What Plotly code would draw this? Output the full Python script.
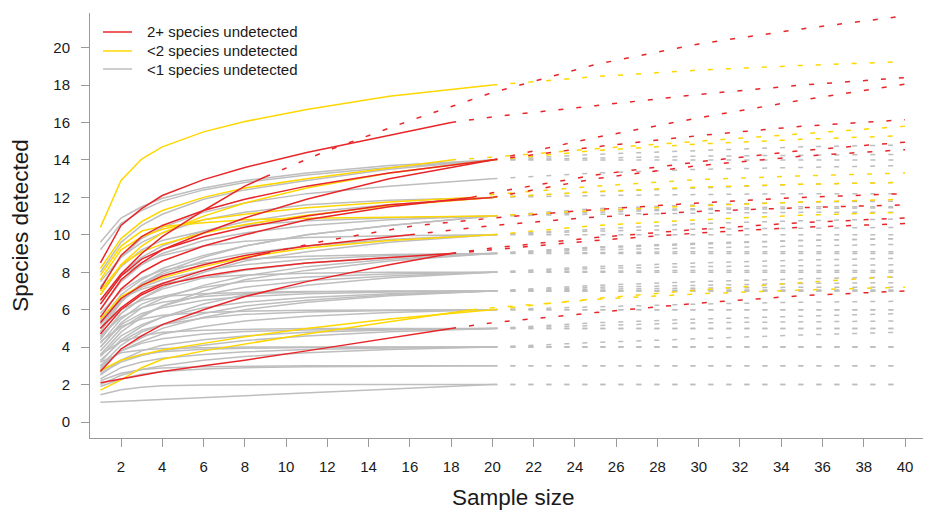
import plotly.graph_objects as go

# Species accumulation curves: observed part (solid) up to each site's sample size,
# projected part (dashed) out to 40 samples.
OBS_KNOTS = [1, 2, 3, 4, 6, 8, 11, 15, 20]
EXT_KNOTS = [12, 16, 20, 25, 30, 35, 40]
X_TICKS = list(range(2, 41, 2))
Y_TICKS = list(range(0, 21, 2))

RED_N = [9, 18, 20, 20, 19, 20, 16, 9, 18, 18, 18]
RED_OBS = [
    [6.5, 7.9, 9.0, 9.9, 11.3, 12.6, 13.1],
    [8.5, 10.5, 11.4, 12.1, 12.95, 13.6, 14.4, 15.3, 16.0],
    [7.1, 8.9, 9.9, 10.5, 11.3, 11.9, 12.6, 13.3, 14.0],
    [6.0, 7.6, 8.5, 9.2, 10.1, 10.9, 11.9, 13.0, 14.0],
    [5.6, 7.1, 8.0, 8.6, 9.4, 10.0, 10.8, 11.5, 12.0],
    [6.3, 7.8, 8.7, 9.2, 9.9, 10.4, 11.0, 11.6, 12.0],
    [5.3, 6.6, 7.3, 7.8, 8.4, 8.9, 9.4, 9.85, 10.0],
    [5.0, 6.1, 6.9, 7.4, 8.1, 8.75, 9.0],
    [2.7, 3.9, 4.6, 5.2, 6.0, 6.7, 7.5, 8.4, 9.0],
    [2.1, 2.3, 2.5, 2.7, 3.0, 3.3, 3.8, 4.5, 5.0],
    [4.7, 6.0, 6.8, 7.3, 7.8, 8.15, 8.5, 8.8, 9.0],
]
RED_EXT = [
    [14.5, 16.1, 17.6, 19.1, 20.2, 21.0, 21.7],
    [16.3, 16.9, 17.5, 18.0, 18.4],
    [15.2, 16.25, 17.2, 18.05],
    [14.7, 15.3, 15.8, 16.15],
    [12.25, 13.2, 13.9, 14.5, 14.95],
    [13.0, 13.7, 14.2, 14.55],
    [10.5, 10.95, 11.25, 11.45, 11.6],
    [9.7, 10.45, 10.9, 11.35, 11.7, 12.0, 12.2],
    [9.3, 9.85, 10.3, 10.65, 10.9],
    [5.3, 5.85, 6.35, 6.75, 7.0],
    [9.2, 9.7, 10.1, 10.4, 10.6],
]

YEL_N = [20, 18, 20, 19, 20, 20, 20, 20, 19]
YEL_OBS = [
    [10.4, 12.9, 14.05, 14.7, 15.5, 16.05, 16.7, 17.4, 18.0],
    [8.2, 9.8, 10.7, 11.3, 12.0, 12.5, 13.0, 13.55, 14.0],
    [6.8, 8.4, 9.4, 10.1, 11.0, 11.7, 12.5, 13.3, 14.0],
    [7.6, 9.2, 9.9, 10.3, 10.8, 11.1, 11.45, 11.75, 12.0],
    [7.0, 8.4, 9.1, 9.5, 10.1, 10.55, 11.05, 11.55, 12.0],
    [7.85, 9.4, 10.2, 10.45, 10.65, 10.8, 10.88, 10.95, 11.0],
    [5.5, 6.7, 7.3, 7.7, 8.3, 8.8, 9.3, 9.7, 10.0],
    [2.75, 3.3, 3.6, 3.85, 4.2, 4.55, 5.0, 5.5, 6.0],
    [1.7, 2.25, 2.9, 3.35, 3.8, 4.15, 4.7, 5.35, 6.0],
]
YEL_EXT = [
    [18.45, 18.8, 19.05, 19.25],
    [14.15, 14.6, 15.0, 15.4, 15.8],
    [14.5, 14.85, 15.1, 15.3],
    [12.15, 12.6, 12.95, 13.15, 13.3],
    [12.3, 12.55, 12.7, 12.8],
    [11.3, 11.55, 11.75, 11.9],
    [10.5, 10.8, 11.05, 11.2],
    [6.6, 7.05, 7.45, 7.8],
    [6.1, 6.55, 6.85, 7.05, 7.2],
]

GRAY_OBS = [
    [9.6, 10.9, 11.5, 11.95, 12.5, 12.9, 13.3, 13.7, 14.0],
    [9.2, 10.6, 11.3, 11.8, 12.4, 12.8, 13.2, 13.6, 14.0],
    [8.0, 9.6, 10.5, 11.1, 11.9, 12.4, 12.9, 13.5, 14.0],
    [7.2, 8.8, 9.8, 10.4, 11.2, 11.7, 12.2, 12.6, 13.0],
    [7.5, 8.8, 9.6, 10.1, 10.8, 11.2, 11.6, 11.85, 12.0],
    [6.3, 7.9, 8.8, 9.4, 10.2, 10.7, 11.2, 11.6, 12.0],
    [6.8, 8.3, 9.2, 9.7, 10.2, 10.5, 10.75, 10.9, 11.0],
    [6.0, 7.5, 8.4, 9.0, 9.7, 10.1, 10.5, 10.8, 11.0],
    [5.4, 6.8, 7.6, 8.2, 8.9, 9.4, 10.0, 10.5, 11.0],
    [4.8, 6.4, 7.4, 8.0, 8.8, 9.4, 10.0, 10.5, 11.0],
    [6.5, 7.8, 8.5, 8.9, 9.4, 9.65, 9.85, 9.95, 10.0],
    [5.0, 6.5, 7.4, 7.9, 8.6, 9.0, 9.4, 9.75, 10.0],
    [4.4, 5.8, 6.6, 7.2, 8.0, 8.6, 9.1, 9.6, 10.0],
    [5.8, 7.0, 7.7, 8.1, 8.5, 8.7, 8.85, 8.95, 9.0],
    [5.2, 6.5, 7.2, 7.6, 8.1, 8.4, 8.7, 8.9, 9.0],
    [4.5, 5.8, 6.6, 7.1, 7.7, 8.1, 8.5, 8.8, 9.0],
    [4.0, 5.3, 6.1, 6.6, 7.3, 7.8, 8.3, 8.7, 9.0],
    [3.6, 4.8, 5.6, 6.2, 7.0, 7.6, 8.1, 8.6, 9.0],
    [5.5, 6.6, 7.1, 7.4, 7.7, 7.85, 7.95, 8.0, 8.0],
    [4.2, 5.5, 6.3, 6.7, 7.2, 7.5, 7.75, 7.9, 8.0],
    [3.8, 5.0, 5.7, 6.2, 6.8, 7.2, 7.55, 7.8, 8.0],
    [3.2, 4.4, 5.1, 5.6, 6.3, 6.8, 7.3, 7.7, 8.0],
    [5.0, 6.0, 6.5, 6.7, 6.85, 6.92, 6.97, 7.0, 7.0],
    [4.6, 5.6, 6.1, 6.4, 6.7, 6.85, 6.95, 7.0, 7.0],
    [4.0, 5.2, 5.8, 6.1, 6.5, 6.7, 6.85, 6.95, 7.0],
    [3.5, 4.6, 5.2, 5.6, 6.1, 6.4, 6.65, 6.85, 7.0],
    [3.0, 4.1, 4.8, 5.2, 5.8, 6.2, 6.5, 6.8, 7.0],
    [2.8, 3.9, 4.5, 5.0, 5.6, 6.0, 6.4, 6.75, 7.0],
    [4.3, 5.1, 5.5, 5.7, 5.85, 5.92, 5.97, 6.0, 6.0],
    [3.3, 4.3, 4.9, 5.2, 5.55, 5.75, 5.88, 5.96, 6.0],
    [2.9, 3.8, 4.3, 4.7, 5.1, 5.4, 5.65, 5.85, 6.0],
    [3.6, 4.3, 4.6, 4.8, 4.9, 4.95, 5.0, 5.0, 5.0],
    [3.0, 3.8, 4.2, 4.45, 4.7, 4.83, 4.92, 4.97, 5.0],
    [2.5, 3.3, 3.8, 4.1, 4.4, 4.6, 4.8, 4.92, 5.0],
    [2.6, 3.2, 3.55, 3.8, 4.1, 4.35, 4.6, 4.82, 5.0],
    [3.2, 3.7, 3.85, 3.92, 3.97, 4.0, 4.0, 4.0, 4.0],
    [2.7, 3.3, 3.6, 3.75, 3.88, 3.94, 3.98, 4.0, 4.0],
    [2.3, 2.9, 3.2, 3.4, 3.6, 3.75, 3.87, 3.95, 4.0],
    [2.0, 2.5, 2.8, 3.0, 3.3, 3.5, 3.7, 3.87, 4.0],
    [2.2, 2.6, 2.8, 2.88, 2.95, 2.98, 3.0, 3.0, 3.0],
    [1.9, 2.3, 2.55, 2.7, 2.83, 2.9, 2.95, 2.98, 3.0],
    [1.45, 1.72, 1.86, 1.93, 1.97, 1.99, 2.0, 2.0, 2.0],
    [1.05, 1.1, 1.15, 1.2, 1.3, 1.4, 1.55, 1.75, 2.0],
]
GRAY_EXT = [
    [14.3, 14.5, 14.7, 14.8],
    [14.1, 14.2, 14.25, 14.3],
    [14.0, 14.0, 14.0, 14.0],
    [13.3, 13.5, 13.6, 13.7],
    [12.3, 12.5, 12.7, 12.8],
    [12.1, 12.15, 12.2, 12.2],
    [11.1, 11.15, 11.2, 11.2],
    [11.3, 11.4, 11.5, 11.5],
    [11.4, 11.6, 11.75, 11.8],
    [11.2, 11.35, 11.4, 11.45],
    [10.0, 10.0, 10.0, 10.0],
    [10.2, 10.3, 10.35, 10.4],
    [10.3, 10.6, 10.75, 10.85],
    [9.0, 9.0, 9.0, 9.0],
    [9.05, 9.1, 9.1, 9.1],
    [9.2, 9.3, 9.4, 9.5],
    [9.3, 9.5, 9.7, 9.8],
    [9.35, 9.55, 9.7, 9.8],
    [8.0, 8.0, 8.0, 8.0],
    [8.05, 8.1, 8.1, 8.1],
    [8.2, 8.3, 8.35, 8.4],
    [8.3, 8.5, 8.65, 8.75],
    [7.0, 7.0, 7.0, 7.0],
    [7.0, 7.0, 7.0, 7.0],
    [7.0, 7.05, 7.05, 7.05],
    [7.1, 7.15, 7.2, 7.2],
    [7.2, 7.3, 7.4, 7.45],
    [7.3, 7.5, 7.65, 7.75],
    [6.0, 6.0, 6.0, 6.0],
    [6.0, 6.0, 6.0, 6.0],
    [6.15, 6.3, 6.4, 6.45],
    [5.0, 5.0, 5.0, 5.0],
    [5.0, 5.0, 5.0, 5.0],
    [5.15, 5.3, 5.35, 5.4],
    [5.3, 5.5, 5.65, 5.8],
    [4.0, 4.0, 4.0, 4.0],
    [4.0, 4.0, 4.0, 4.0],
    [4.0, 4.0, 4.0, 4.0],
    [4.25, 4.45, 4.65, 4.8],
    [3.0, 3.0, 3.0, 3.0],
    [3.0, 3.0, 3.0, 3.0],
    [2.0, 2.0, 2.0, 2.0],
    [2.0, 2.0, 2.0, 2.0],
]
GRAY_N = [20] * len(GRAY_OBS)

LEGEND_LABELS = ["2+ species undetected", "<2 species undetected", "<1 species undetected"]
COLORS = ["#e8262a", "#ffd700", "#bebebe"]

# drawing order: grey underneath, then yellow, red on top
GROUPS = [
    (COLORS[2], GRAY_N, GRAY_OBS, GRAY_EXT),
    (COLORS[1], YEL_N, YEL_OBS, YEL_EXT),
    (COLORS[0], RED_N, RED_OBS, RED_EXT),
]

FONT = "Liberation Sans, Arial, Helvetica, sans-serif"
LINE_W = 1.5


def observed_x(n):
    return [k for k in OBS_KNOTS if k < n] + [n]


def projected_x(n):
    return [n] + [k for k in EXT_KNOTS if k > n]


fig = go.Figure()
for color, sizes, obs, ext in GROUPS:
    for n, yo, ye in zip(sizes, obs, ext):
        fig.add_trace(go.Scatter(
            x=projected_x(n), y=[yo[-1]] + ye, mode="lines",
            line=dict(color=color, width=LINE_W, dash="5px,13px"),
            hoverinfo="skip", showlegend=False,
        ))
        fig.add_trace(go.Scatter(
            x=observed_x(n), y=yo, mode="lines",
            line=dict(color=color, width=LINE_W),
            hoverinfo="skip", showlegend=False,
        ))

# key in the top-left corner (paper coordinates of the plotting area)
LEG_X0, LEG_X1, LEG_TEXT_X = 0.0156, 0.0504, 0.066
LEG_ROWS = [0.9553, 0.9106, 0.8682]
for label, color, yrow in zip(LEGEND_LABELS, COLORS, LEG_ROWS):
    fig.add_shape(type="line", xref="paper", yref="paper",
                  x0=LEG_X0, x1=LEG_X1, y0=yrow, y1=yrow,
                  line=dict(color=color, width=LINE_W))
    fig.add_annotation(xref="paper", yref="paper", x=LEG_TEXT_X, y=yrow,
                       text=label, showarrow=False, xanchor="left", yanchor="middle",
                       font=dict(family=FONT, size=15, color="#1a1a1a"))

# x-axis title placed as a text label below the tick labels
fig.add_annotation(xref="paper", yref="paper", x=0.508, y=-0.141,
                   text="Sample size", showarrow=False,
                   xanchor="center", yanchor="middle",
                   font=dict(family=FONT, size=22.5, color="#1a1a1a"))

axis_common = dict(
    showgrid=False, zeroline=False, showline=True, linecolor="#9a9a9a",
    linewidth=1, ticks="outside", ticklen=8, tickwidth=1, tickcolor="#9a9a9a",
    tickfont=dict(family=FONT, size=15, color="#1a1a1a"),
)

fig.update_layout(
    width=925, height=511,
    margin=dict(l=90, r=2, t=13, b=73),
    paper_bgcolor="white", plot_bgcolor="white",
    font=dict(family=FONT, color="#1a1a1a"),
    showlegend=False,
    xaxis=dict(
        range=[0.496, 40.87], tickvals=X_TICKS, ticklabelstandoff=7,
        **axis_common,
    ),
    yaxis=dict(
        range=[-0.855, 21.85], tickvals=Y_TICKS, ticklabelstandoff=8,
        title=dict(text="Species detected", font=dict(size=22.5), standoff=18),
        **axis_common,
    ),
)

fig.write_html("out.html")
